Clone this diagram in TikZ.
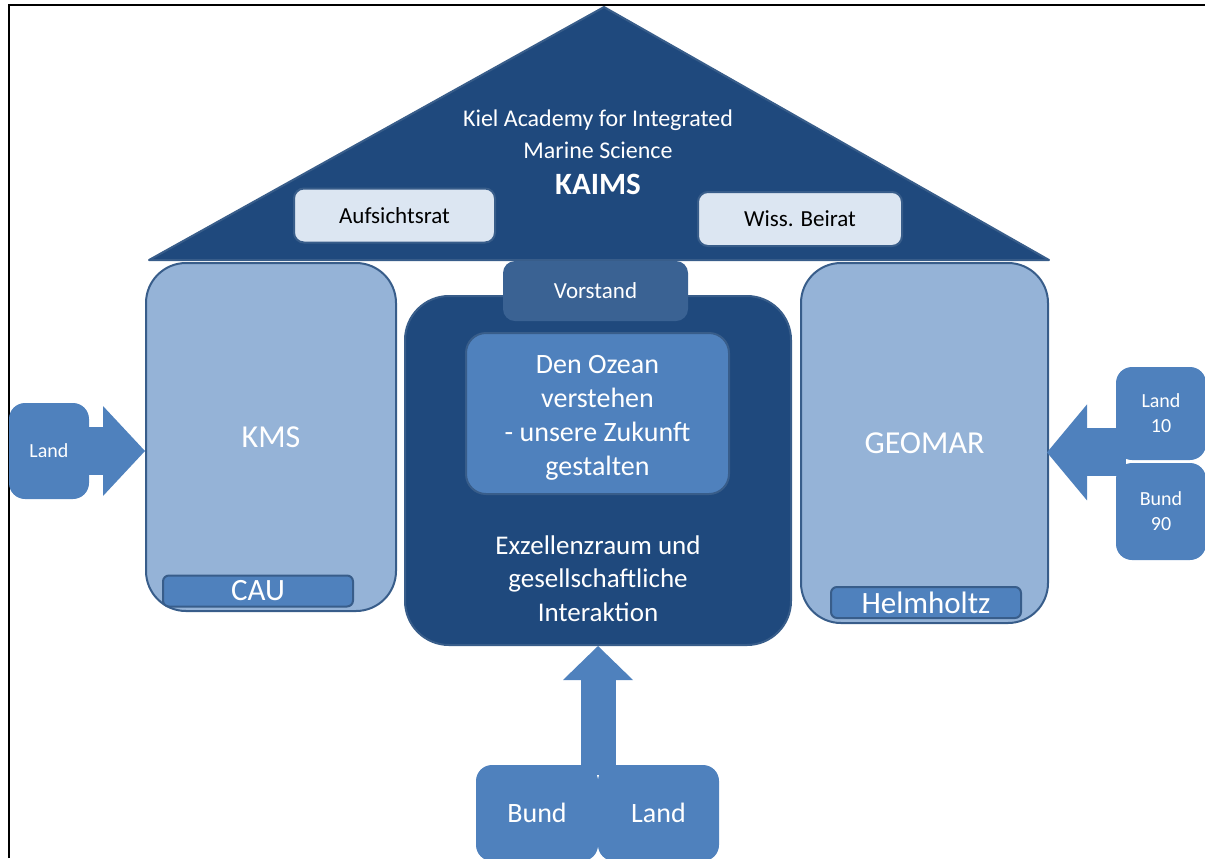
\documentclass[tikz,border=0pt]{standalone}
\usepackage{fontspec}
\setmainfont{Carlito}
\usetikzlibrary{arrows.meta,calc}
\definecolor{roofblue}{HTML}{1F497D}
\definecolor{rimblue}{HTML}{385D8A}
\definecolor{pillarblue}{HTML}{95B3D7}
\definecolor{midblue}{HTML}{4F81BD}
\definecolor{boardblue}{HTML}{DCE6F2}
\definecolor{chairblue}{HTML}{3A6293}
\begin{document}
\begin{tikzpicture}
[x=0.5pt,y=-0.5pt,
  roofdecorate/.style={fill=roofblue,draw=rimblue,line width=1pt,line join=round},
  titledecorate/.style={text=white,inner sep=0pt,font=\fontsize{12}{15}\selectfont},
  boarddecorate/.style={shape=rectangle,rounded corners=5pt,fill=boardblue,draw=rimblue,line width=1pt,
    minimum height=27pt,font=\fontsize{11.5}{14}\selectfont},
  pillardecorate/.style={shape=rectangle,rounded corners=20pt,fill=pillarblue,draw=rimblue,line width=1pt,
    text=white,font=\fontsize{16}{19}\selectfont},
  bardecorate/.style={shape=rectangle,rounded corners=3pt,fill=midblue,draw=rimblue,line width=1pt,
    minimum width=95pt,minimum height=15.5pt,inner sep=0pt,text=white,font=\fontsize{15.5}{18}\selectfont},
  funddecorate/.style={shape=rectangle,rounded corners=8pt,fill=midblue,text=white,align=center},
  arrowdecorate/.style={draw=midblue,line width=#1}]
\clip (0,0) rectangle (1205,858);
% frame
\draw[black,line width=1pt] (9,858) -- (9,5) -- (1205,5);
% roof
\coordinate (apex) at (604,7);
\coordinate (eaveR) at (1049,260);
\coordinate (eaveL) at (149,260);
\draw[roofdecorate] (apex) -- (eaveR) -- (eaveL) -- cycle;
\node (kiel) at (598,120) [titledecorate] {Kiel Academy for Integrated};
\node (marine) at (598,150) [titledecorate] {Marine Science};
\node (kaims) at (598,184) [titledecorate,font=\bfseries\fontsize{15.5}{18}\selectfont] {KAIMS};
\node (aufsicht) at (394.5,215.5) [boarddecorate,minimum width=100.5pt] {Aufsichtsrat};
\node (beirat) at (800,219) [boarddecorate,minimum width=102pt] {Wiss. Beirat};
% pillars
\node (kms) at (271,437) [pillardecorate,minimum width=125pt,minimum height=174pt] {KMS};
\node (cau) at (258,591) [bardecorate] {CAU};
\node (geomar) at (924.5,443) [pillardecorate,minimum width=123.5pt,minimum height=180pt] {GEOMAR};
\node (helmholtz) at (926,602.5) [bardecorate] {Helmholtz};
% middle block
\node (core) at (598,470.5) [shape=rectangle,rounded corners=22pt,fill=roofblue,draw=rimblue,line width=1pt,
  minimum width=193pt,minimum height=174.5pt] {};
\node (vorstand) at (595.5,291) [shape=rectangle,rounded corners=6pt,fill=chairblue,minimum width=92.5pt,
  minimum height=30pt,text=white,font=\fontsize{11.5}{14}\selectfont] {Vorstand};
\node (ozean) at (597.5,413.5) [shape=rectangle,rounded corners=10pt,fill=midblue,draw=rimblue,line width=1pt,
  minimum width=131.5pt,minimum height=80.5pt,text=white,align=center,font=\fontsize{14}{17}\selectfont]
  {\\[-4pt]Den Ozean\\verstehen\\- unsere Zukunft\\gestalten};
\node (excell) at (598,578.5) [text=white,align=center,font=\fontsize{13.5}{16.75}\selectfont]
  {Exzellenzraum und\\gesellschaftliche\\Interaktion};
% funding boxes
\node (landL) at (49,451) [funddecorate,minimum width=40pt,minimum height=48pt,font=\fontsize{10}{12.5}\selectfont] {Land};
\node (land10) at (1161,413.5) [funddecorate,minimum width=45pt,minimum height=46.5pt,font=\fontsize{10}{12.5}\selectfont] {Land\\10};
\node (bund90) at (1161,511.5) [funddecorate,minimum width=45pt,minimum height=48.5pt,font=\fontsize{10}{12.5}\selectfont] {Bund\\90};
\node (bundB) at (537,813) [funddecorate,minimum width=61pt,minimum height=48pt,font=\fontsize{14}{17}\selectfont] {Bund};
\node (landB) at (658.5,813) [funddecorate,minimum width=60.5pt,minimum height=48pt,font=\fontsize{14}{17}\selectfont] {Land};
% funding arrows
\coordinate (fundR) at ($(land10.south west)+(10,-8)$);
\coordinate (fundB) at ($(bundB.north east)!0.5!(landB.north west)+(0,10)$);
\draw[arrowdecorate=24pt,-{Triangle[width=45pt,length=21pt,line width=0pt 0]}] (landL.east) -- (landL.east -| kms.west);
\draw[arrowdecorate=24pt,-{Triangle[width=48pt,length=20pt,line width=0pt 0]}] (fundR) -- ($(fundR -| geomar.east)+(-2,0)$);
\draw[arrowdecorate=17.5pt,-{Triangle[width=35pt,length=17pt,line width=0pt 0]}] (fundB) -- (fundB |- core.south);
\end{tikzpicture}
\end{document}
